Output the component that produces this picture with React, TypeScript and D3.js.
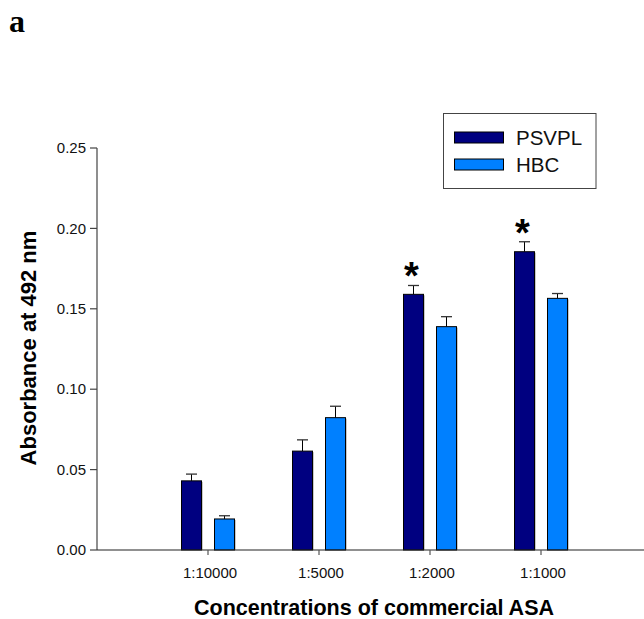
import React from 'react';
import * as d3 from 'd3';

const categories = ['1:10000', '1:5000', '1:2000', '1:1000'];
const seriesNames = ['PSVPL', 'HBC'];
const psvpl = [0.043, 0.0615, 0.159, 0.1855];
const psvplErr = [0.0042, 0.007, 0.0055, 0.0062];
const hbc = [0.0193, 0.0823, 0.1389, 0.1565];
const hbcErr = [0.002, 0.0071, 0.0062, 0.003];
const significant = [false, false, true, true]; // PSVPL marked with *
const yTicks = [0, 0.05, 0.1, 0.15, 0.2, 0.25];

const colors: Record<string, string> = { PSVPL: '#000080', HBC: '#0080ff' };
const font = 'Arial, "Liberation Sans", Helvetica, sans-serif';

const App = () => {
    const width = 644;
    const height = 619;
    const axisX = 97;
    const axisY = 550;

    const y = d3.scaleLinear().domain([0, 0.25]).range([axisY, 148]);
    const x = d3.scaleBand<string>().domain(categories).range([152.5, 596.5]).padding(0);
    const inner = d3.scaleBand<string>().domain(seriesNames).range([0, 53]).paddingInner(13 / 33);

    const rows = categories.map((c, i) => ({
        cat: c,
        vals: [
            { name: 'PSVPL', v: psvpl[i], e: psvplErr[i] },
            { name: 'HBC', v: hbc[i], e: hbcErr[i] },
        ],
        star: significant[i],
    }));

    const bw = inner.bandwidth();

    return (
        <svg width={width} height={height} style={{ position: 'absolute', left: 0, top: 0, background: '#fff' }}>
            <text x={9} y={32} fontFamily='"Liberation Serif", "Times New Roman", serif' fontWeight="bold" fontSize={32}>a</text>

            {/* bars */}
            {rows.map((r) => {
                const cx = (x(r.cat) as number) + x.bandwidth() / 2;
                const x0 = cx - 26.5;
                return (
                    <g key={r.cat}>
                        {r.vals.map((d) => {
                            const bx = x0 + (inner(d.name) as number);
                            const top = y(d.v);
                            const et = y(d.v + d.e);
                            const mx = bx + bw / 2;
                            return (
                                <g key={d.name}>
                                    <line x1={mx} x2={mx} y1={top} y2={et} stroke="#000" strokeWidth={1} />
                                    <line x1={mx - 5.5} x2={mx + 5.5} y1={et} y2={et} stroke="#333" strokeWidth={1.3} />
                                    <line x1={bx + bw + 1} x2={bx + bw + 1} y1={top + 1} y2={axisY} stroke="#c8c8c8" strokeWidth={1} />
                                    <rect x={bx} y={top} width={bw} height={axisY - top} fill={colors[d.name]} stroke="#000" strokeWidth={1} />
                                </g>
                            );
                        })}
                        {r.star && (
                            <text x={x0 + (inner('PSVPL') as number) + bw / 2 - 2} y={y(r.vals[0].v + r.vals[0].e) + 4}
                                textAnchor="middle" fontFamily={font} fontWeight="bold" fontSize={38}>*</text>
                        )}
                    </g>
                );
            })}

            {/* y axis */}
            <line x1={axisX} x2={axisX} y1={y(0.25)} y2={axisY} stroke="#444" strokeWidth={1.2} />
            {yTicks.map((t) => (
                <g key={t}>
                    <line x1={axisX - 7} x2={axisX} y1={y(t)} y2={y(t)} stroke="#444" strokeWidth={1.2} />
                    <text x={axisX - 11} y={y(t)} dy="0.35em" textAnchor="end" fontFamily={font} fontSize={15} fill="#111">
                        {d3.format('.2f')(t)}
                    </text>
                </g>
            ))}

            {/* x axis */}
            <line x1={axisX} x2={width} y1={axisY} y2={axisY} stroke="#222" strokeWidth={1.2} />
            {categories.map((c) => {
                const cx = (x(c) as number) + x.bandwidth() / 2;
                return (
                    <g key={c}>
                        <line x1={cx} x2={cx} y1={axisY} y2={axisY + 5} stroke="#555" strokeWidth={1.2} />
                        <text x={cx + 2} y={578} textAnchor="middle" fontFamily={font} fontSize={15} fill="#111">{c}</text>
                    </g>
                );
            })}

            {/* axis titles */}
            <text x={374} y={615} textAnchor="middle" fontFamily={font} fontWeight="bold" fontSize={21.5}>
                Concentrations of commercial ASA
            </text>
            <text transform="translate(36,348) rotate(-90)" textAnchor="middle" fontFamily={font} fontWeight="bold" fontSize={22}>
                Absorbance at 492 nm
            </text>

            {/* legend */}
            <rect x={443.5} y={113.5} width={152.5} height={75} fill="#fff" stroke="#444" strokeWidth={1} />
            {seriesNames.map((s, i) => (
                <g key={s}>
                    <rect x={454.5} y={132 + i * 27} width={49} height={11} fill={colors[s]} stroke="#000" strokeWidth={1} />
                    <text x={516} y={137.5 + i * 27} dy="0.36em" fontFamily={font} fontSize={20.5} fill="#111">{s}</text>
                </g>
            ))}
        </svg>
    );
};

export default App;
